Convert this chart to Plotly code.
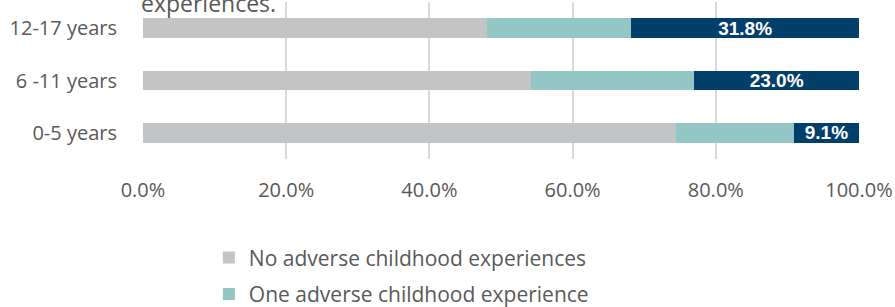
import plotly.graph_objects as go

categories = ["0-5 years", "6 -11 years", "12-17 years"]
series_names = [
    "No adverse childhood experiences",
    "One adverse childhood experience",
    "Two or more adverse childhood experiences",
]
no_ace = [74.5, 54.2, 48.0]
one_ace = [16.4, 22.8, 20.2]
two_plus = [9.1, 23.0, 31.8]
x_ticks = [0, 20, 40, 60, 80, 100]
x_tick_labels = ["0.0%", "20.0%", "40.0%", "60.0%", "80.0%", "100.0%"]

colors = ["#C3C4C6", "#95C6C6", "#023F6B"]
values = [no_ace, one_ace, two_plus]

fig = go.Figure()
for i, (name, vals, col) in enumerate(zip(series_names, values, colors)):
    kw = {}
    if i == 2:
        kw = dict(
            text=[f"{v:.1f}%" for v in vals],
            textposition="inside",
            insidetextanchor="middle",
            textangle=0,
            constraintext="none",
            textfont=dict(family="Liberation Sans", size=19, color="white", weight="bold"),
        )
    fig.add_trace(go.Bar(
        y=categories, x=vals, name=name, orientation="h",
        marker=dict(color=col, line=dict(width=0)),
        legendgroup=f"g{i}", hoverinfo="skip", **kw,
    ))

fig.update_layout(
    barmode="stack",
    bargap=0.62,
    width=895, height=307,
    margin=dict(l=143, r=36, t=2, b=147.5, autoexpand=False),
    paper_bgcolor="white", plot_bgcolor="white",
    font=dict(family="Open Sans", color="#595959"),
    showlegend=True,
    legend=dict(
        orientation="v", x=0.092, xanchor="left",
        yref="container", y=0.2265, yanchor="top",
        font=dict(family="Open Sans", size=21, color="#595959"),
        traceorder="grouped", tracegroupgap=6,
        itemwidth=30,
    ),
)
fig.update_xaxes(
    range=[0, 100], tickvals=x_ticks, ticktext=x_tick_labels,
    showgrid=True, gridcolor="#D9D9D9", gridwidth=1.5,
    zeroline=False, showline=False, automargin=False,
    tickfont=dict(family="Open Sans", size=20, color="#595959"),
    ticklabelstandoff=17,
)
fig.update_yaxes(
    tickfont=dict(family="Open Sans", size=20, color="#595959"),
    showgrid=False, showline=False, ticklabelstandoff=25, automargin=False,
    range=[-0.5, 2.5],
)
fig.add_annotation(
    text="experiences.", xref="paper", yref="paper", x=0, y=1, xanchor="left",
    yanchor="middle", yshift=-1, xshift=-4, showarrow=False,
    font=dict(family="Open Sans", size=23, color="#595959"),
)
fig.write_html(
    "out.html",
    config={"displayModeBar": False},
    post_script="document.body.style.margin='0';document.body.style.overflow='hidden';",
)
